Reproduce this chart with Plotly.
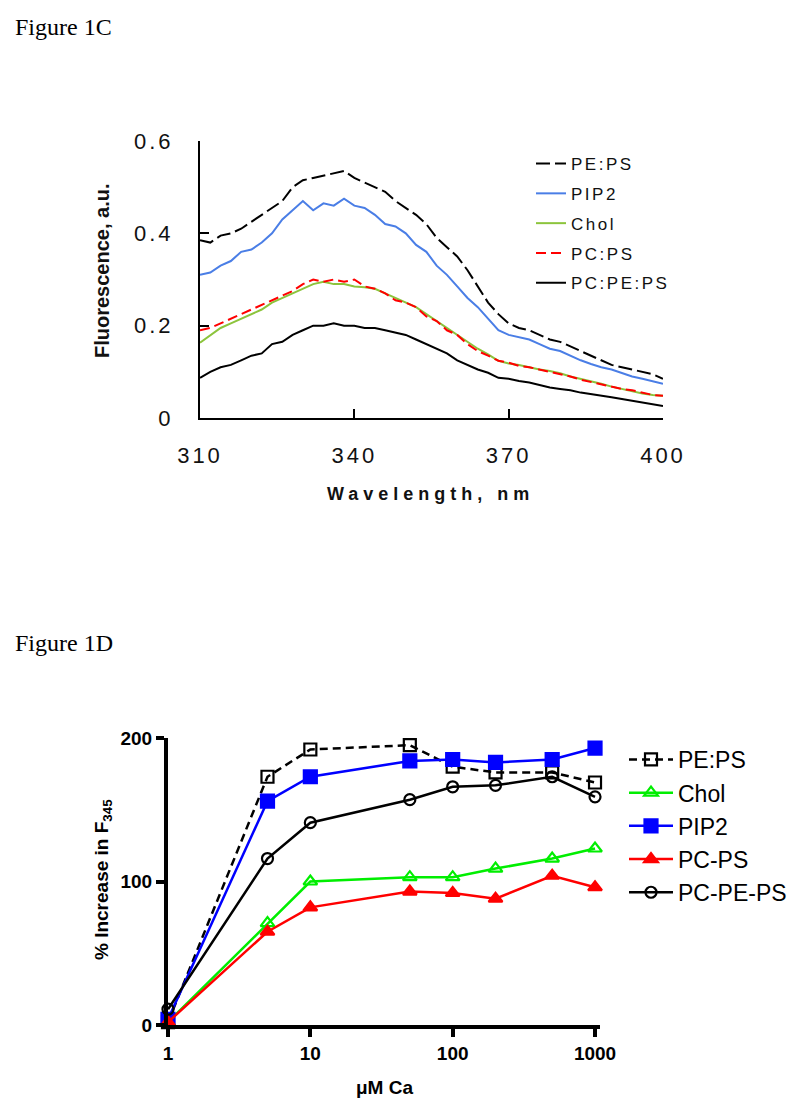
import plotly.graph_objects as go

# ---------------- Figure 1C data ----------------
wavelength = [310, 312, 314, 316, 318, 320, 322, 324, 326, 328, 330, 332, 334, 336, 338, 340,
              342, 344, 346, 348, 350, 352, 354, 356, 358, 360, 362, 364, 366, 368, 370, 372,
              374, 376, 378, 380, 382, 384, 386, 388, 390, 392, 394, 396, 398, 400]

pe_ps = [0.385, 0.38, 0.395, 0.40, 0.41, 0.425, 0.44, 0.455, 0.47, 0.50, 0.515, 0.52, 0.525, 0.53, 0.535, 0.52,
         0.51, 0.50, 0.49, 0.47, 0.455, 0.44, 0.42, 0.39, 0.37, 0.35, 0.32, 0.285, 0.25, 0.225, 0.205, 0.195,
         0.19, 0.18, 0.17, 0.165, 0.155, 0.145, 0.135, 0.125, 0.115, 0.11, 0.105, 0.10, 0.095, 0.085]

pip2 = [0.31, 0.315, 0.33, 0.34, 0.36, 0.365, 0.38, 0.40, 0.43, 0.45, 0.47, 0.45, 0.465, 0.46, 0.475, 0.46,
        0.455, 0.44, 0.42, 0.415, 0.40, 0.375, 0.36, 0.33, 0.31, 0.285, 0.26, 0.24, 0.215, 0.19, 0.18, 0.175,
        0.17, 0.16, 0.15, 0.145, 0.135, 0.125, 0.117, 0.11, 0.105, 0.098, 0.09, 0.085, 0.08, 0.074]

chol = [0.163, 0.18, 0.195, 0.205, 0.215, 0.225, 0.235, 0.25, 0.26, 0.27, 0.28, 0.29, 0.295, 0.29, 0.29, 0.285,
        0.283, 0.28, 0.27, 0.26, 0.25, 0.24, 0.225, 0.21, 0.195, 0.18, 0.165, 0.15, 0.138, 0.124, 0.118, 0.115,
        0.11, 0.105, 0.102, 0.097, 0.09, 0.085, 0.08, 0.074, 0.068, 0.063, 0.058, 0.053, 0.05, 0.048]

pc_ps = [0.19, 0.195, 0.205, 0.215, 0.225, 0.235, 0.245, 0.255, 0.265, 0.275, 0.29, 0.30, 0.295, 0.30, 0.295, 0.30,
         0.285, 0.28, 0.27, 0.255, 0.25, 0.24, 0.22, 0.21, 0.19, 0.18, 0.16, 0.145, 0.135, 0.124, 0.12, 0.113,
         0.11, 0.105, 0.10, 0.095, 0.09, 0.083, 0.078, 0.073, 0.068, 0.063, 0.06, 0.055, 0.05, 0.048]

pc_pe_ps = [0.087, 0.10, 0.11, 0.115, 0.125, 0.135, 0.14, 0.16, 0.165, 0.18, 0.19, 0.20, 0.20, 0.205, 0.20, 0.20,
            0.195, 0.195, 0.19, 0.185, 0.18, 0.17, 0.16, 0.15, 0.14, 0.125, 0.115, 0.105, 0.098, 0.087, 0.085, 0.08,
            0.077, 0.072, 0.066, 0.063, 0.06, 0.055, 0.052, 0.048, 0.045, 0.041, 0.037, 0.034, 0.03, 0.026]

# ---------------- Figure 1D data ----------------
ca_um = [1, 5, 10, 50, 100, 200, 500, 1000]
d_pe_ps = [2, 173, 192, 195, 180, 176, 176, 169]
d_chol = [2, 71, 100, 103, 103, 109, 116, 123]
d_pip2 = [4, 156, 173, 184, 185, 183, 185, 193]
d_pc_ps = [2, 65, 82, 93, 92, 88, 104, 96]
d_pc_pe_ps = [11, 116, 141, 157, 166, 167, 173, 159]

top_y_ticks = [0, 0.2, 0.4, 0.6]
top_y_labels = ["0", "0.2", "0.4", "0.6"]
top_x_ticks = [310, 340, 370, 400]
bot_y_ticks = [0, 100, 200]
bot_x_ticks = [1, 10, 100, 1000]

SANS = "Liberation Sans, Arial, sans-serif"
SERIF = "Liberation Serif, Times New Roman, serif"

W, H = 800, 1108


def spaced(s, px):
    return '<span style="letter-spacing:%spx">%s</span>' % (px, s)


fig = go.Figure()

# Top chart traces (legend 1)
top_series = [
    ("PE:PS", pe_ps, "#000000", "14px,5px"),
    ("PIP2", pip2, "#4a7ee6", "solid"),
    ("Chol", chol, "#8cc43c", "solid"),
    ("PC:PS", pc_ps, "#ff0000", "10px,5px"),
    ("PC:PE:PS", pc_pe_ps, "#000000", "solid"),
]
for i, (name, ys, col, dash) in enumerate(top_series):
    fig.add_trace(go.Scatter(
        x=wavelength, y=ys, mode="lines", name=spaced(name, 2.5),
        line=dict(color=col, width=2, dash=dash),
        xaxis="x", yaxis="y", legend="legend",
        legendgroup="t%d" % i, legendrank=i + 1,
    ))

# Bottom chart traces (legend 2)
bot_series = [
    ("PE:PS", d_pe_ps, "#000000", "8px,5px", "square-open", 12),
    ("Chol", d_chol, "#00ee00", "solid", "triangle-up-open", 12),
    ("PIP2", d_pip2, "#0000ff", "solid", "square", 13),
    ("PC-PS", d_pc_ps, "#ff0000", "solid", "triangle-up", 12),
    ("PC-PE-PS", d_pc_pe_ps, "#000000", "solid", "circle-open", 11),
]
for i, (name, ys, col, dash, sym, sz) in enumerate(bot_series):
    fig.add_trace(go.Scatter(
        x=ca_um, y=ys, mode="lines+markers", name=name,
        line=dict(color=col, width=2.5, dash=dash),
        marker=dict(symbol=sym, size=sz, color=col, line=dict(color=col, width=2.2)),
        xaxis="x2", yaxis="y2", legend="legend2", cliponaxis=False,
        legendgroup="b%d" % i, legendrank=i + 1,
    ))

fig.update_layout(
    template="none",
    width=W, height=H,
    margin=dict(l=0, r=0, t=0, b=0, pad=0, autoexpand=False),
    paper_bgcolor="white", plot_bgcolor="white",
    showlegend=True,
    xaxis=dict(
        domain=[200 / W, 663 / W], range=[310, 400], anchor="y", automargin=False,
        showline=True, linecolor="black", linewidth=2, showgrid=False, zeroline=False,
        ticks="inside", ticklen=9, tickwidth=2, tickcolor="black",
        tickvals=top_x_ticks, ticktext=[spaced(str(v), 3) for v in top_x_ticks],
        tickfont=dict(family=SANS, size=22, color="#111"), ticklabelstandoff=17,
    ),
    yaxis=dict(
        domain=[1 - 418 / H, 1 - 141 / H], range=[0, 0.6], anchor="x", automargin=False,
        showline=True, linecolor="black", linewidth=2, showgrid=False, zeroline=False,
        ticks="inside", ticklen=9, tickwidth=2, tickcolor="black",
        tickvals=top_y_ticks, ticktext=[spaced(t, 3) for t in top_y_labels],
        tickfont=dict(family=SANS, size=22, color="#111"), ticklabelstandoff=20,
    ),
    xaxis2=dict(
        domain=[168 / W, 600 / W], type="log", range=[0, 3.035], anchor="y2", automargin=False,
        showline=True, linecolor="black", linewidth=4, showgrid=False, zeroline=False,
        ticks="outside", ticklen=8, tickwidth=4, tickcolor="black",
        tickvals=bot_x_ticks, ticktext=[str(v) for v in bot_x_ticks],
        tickfont=dict(family=SANS, size=19, color="black", weight="bold"),
    ),
    yaxis2=dict(
        domain=[1 - 1025 / H, 1 - 738 / H], range=[0, 200], anchor="x2", automargin=False,
        showline=True, linecolor="black", linewidth=4, showgrid=False, zeroline=False,
        ticks="outside", ticklen=8, tickwidth=4, tickcolor="black",
        tickvals=bot_y_ticks, ticktext=[str(v) for v in bot_y_ticks],
        tickfont=dict(family=SANS, size=19, color="black", weight="bold"),
    ),
    legend=dict(
        x=531 / W, y=1 - 146 / H, xanchor="left", yanchor="top",
        bgcolor="rgba(0,0,0,0)", borderwidth=0,
        font=dict(family=SANS, size=17, color="#111"),
        traceorder="grouped", tracegroupgap=4.7, itemwidth=30,
    ),
    legend2=dict(
        x=624 / W, y=1 - 738 / H, xanchor="left", yanchor="top",
        bgcolor="rgba(0,0,0,0)", borderwidth=0,
        font=dict(family=SANS, size=23, color="black"),
        traceorder="grouped", tracegroupgap=0.3, itemwidth=44,
    ),
)

annotations = [
    dict(text="Figure 1C", x=13 / W, y=1 - 27 / H, xanchor="left", yanchor="middle",
         font=dict(family=SERIF, size=24, color="black")),
    dict(text="Figure 1D", x=13 / W, y=1 - 643 / H, xanchor="left", yanchor="middle",
         font=dict(family=SERIF, size=24, color="black")),
    dict(text="<b>Fluorescence, a.u.</b>", x=102 / W, y=1 - 271 / H, xanchor="center", yanchor="middle",
         textangle=-90, font=dict(family=SANS, size=20, color="#111")),
    dict(text="<b>" + spaced("Wavelength, nm", 5) + "</b>", x=431 / W, y=1 - 494 / H,
         xanchor="center", yanchor="middle",
         font=dict(family=SANS, size=18, color="#111")),
    dict(text="<b>% Increase in F<sub>345</sub></b>", x=103 / W, y=1 - 880 / H, xanchor="center", yanchor="middle",
         textangle=-90, font=dict(family=SANS, size=19, color="black")),
    dict(text="<b>μM Ca</b>", x=384 / W, y=1 - 1087 / H, xanchor="center", yanchor="middle",
         font=dict(family=SANS, size=19, color="black")),
]
for a in annotations:
    a.update(xref="paper", yref="paper", showarrow=False)
fig.update_layout(annotations=annotations)

fig.write_html("out.html", config={"displayModeBar": False},
               post_script="document.body.style.margin='0px';")
